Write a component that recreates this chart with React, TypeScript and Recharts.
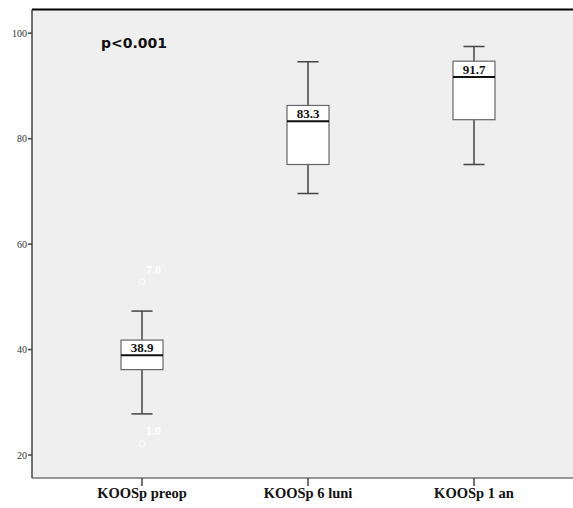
import React from "react";
import {
  ComposedChart,
  Bar,
  Scatter,
  XAxis,
  YAxis,
  CartesianGrid,
  ReferenceLine,
  Customized,
} from "recharts";

const categories = ["KOOSp preop", "KOOSp 6 luni", "KOOSp 1 an"];
const whiskerLow = [27.8, 69.6, 75.1];
const q1 = [36.2, 75.1, 83.6];
const medians = [38.9, 83.3, 91.7];
const q3 = [41.8, 86.3, 94.7];
const whiskerHigh = [47.3, 94.6, 97.5];
const medianLabels = ["38.9", "83.3", "91.7"];
const outlierHigh = [52.9, null, null];
const outlierHighLabels = ["7.0", "", ""];
const outlierLow = [22.2, null, null];
const outlierLowLabels = ["1.0", "", ""];
const yTicks = [20, 40, 60, 80, 100];

const Y_MIN = 15.64;
const Y_MAX = 104.5;

const data = categories.map((name, i) => ({
  name,
  low: whiskerLow[i],
  q1: q1[i],
  median: medians[i],
  q3: q3[i],
  high: whiskerHigh[i],
  medianLabel: medianLabels[i],
  hi: outlierHigh[i],
  hiLabel: outlierHighLabels[i],
  lo: outlierLow[i],
  loLabel: outlierLowLabels[i],
}));

const SERIF = "'Liberation Serif', 'Times New Roman', serif";

function BoxShape(props: any) {
  const { x, y, width, height, payload } = props;
  if (payload == null || !height) return null;
  const span = payload.high - payload.low;
  const py = (v: number) => y + ((payload.high - v) * height) / span;
  const cx = x + width / 2;
  const cap = width / 2;
  const yQ1 = py(payload.q1);
  const yQ3 = py(payload.q3);
  const yMed = py(payload.median);
  return (
    <g>
      <line x1={cx} x2={cx} y1={py(payload.high)} y2={yQ3} stroke="#444" strokeWidth={1.5} />
      <line x1={cx} x2={cx} y1={yQ1} y2={py(payload.low)} stroke="#444" strokeWidth={1.5} />
      <line x1={cx - cap / 2} x2={cx + cap / 2} y1={py(payload.high)} y2={py(payload.high)} stroke="#444" strokeWidth={1.5} />
      <line x1={cx - cap / 2} x2={cx + cap / 2} y1={py(payload.low)} y2={py(payload.low)} stroke="#444" strokeWidth={1.5} />
      <rect x={x} y={yQ3} width={width} height={yQ1 - yQ3} fill="#fff" stroke="#666" strokeWidth={1.2} />
      <line x1={x} x2={x + width} y1={yMed} y2={yMed} stroke="#111" strokeWidth={2} />
      <text
        x={cx}
        y={yMed - 3}
        textAnchor="middle"
        fontFamily={SERIF}
        fontWeight="bold"
        fontSize={13}
        fill="#111"
      >
        {payload.medianLabel}
      </text>
    </g>
  );
}

function OutlierShape(key: "hi" | "lo") {
  return (props: any) => {
    const { cx, cy, payload } = props;
    if (payload == null || payload[key] == null || !isFinite(cy)) return <g />;
    const label = key === "hi" ? payload.hiLabel : payload.loLabel;
    return (
      <g>
        <circle cx={cx} cy={cy} r={3} fill="none" stroke="#fff" strokeWidth={1} />
        <text
          x={cx + 4}
          y={cy - 8}
          fontFamily={SERIF}
          fontWeight="bold"
          fontSize={12}
          fill="#fff"
        >
          {label}
        </text>
      </g>
    );
  };
}

export default function App() {
  return (
    <div style={{ position: "absolute", left: 0, top: 0, background: "#fff" }}>
      <ComposedChart
        width={573}
        height={508}
        data={data}
        margin={{ top: 9.5, right: 0, bottom: 0, left: 0 }}
      >
        <CartesianGrid horizontal={false} vertical={false} fill="#efefef" />
        <XAxis
          dataKey="name"
          height={30}
          padding={{ left: 27, right: 16 }}
          axisLine={{ stroke: "#777", strokeWidth: 1.5 }}
          tickLine={{ stroke: "#444", strokeWidth: 1.5 }}
          tickSize={8}
          tickMargin={2}
          tick={{
            fontFamily: SERIF,
            fontWeight: "bold",
            fontSize: 14.5,
            fill: "#111",
          }}
        />
        <YAxis
          type="number"
          domain={[Y_MIN, Y_MAX]}
          ticks={yTicks}
          allowDataOverflow
          width={32}
          axisLine={{ stroke: "#444", strokeWidth: 1.5 }}
          tickLine={{ stroke: "#444", strokeWidth: 1.5 }}
          tickSize={4}
          tickMargin={1}
          tick={{ fontFamily: SERIF, fontSize: 10, fill: "#333" }}
        />
        <ReferenceLine y={Y_MAX} stroke="#000" strokeWidth={2} />
        <Bar
          dataKey={(d: any) => [d.low, d.high]}
          barSize={42}
          shape={BoxShape}
          isAnimationActive={false}
        />
        <Scatter dataKey="hi" shape={OutlierShape("hi")} isAnimationActive={false} />
        <Scatter dataKey="lo" shape={OutlierShape("lo")} isAnimationActive={false} />
        <Customized
          component={() => (
            <text
              x={101}
              y={47.5}
              fontFamily="'DejaVu Sans', sans-serif"
              fontWeight="bold"
              fontSize={14}
              fill="#111"
            >
              p&lt;0.001
            </text>
          )}
        />
      </ComposedChart>
    </div>
  );
}
